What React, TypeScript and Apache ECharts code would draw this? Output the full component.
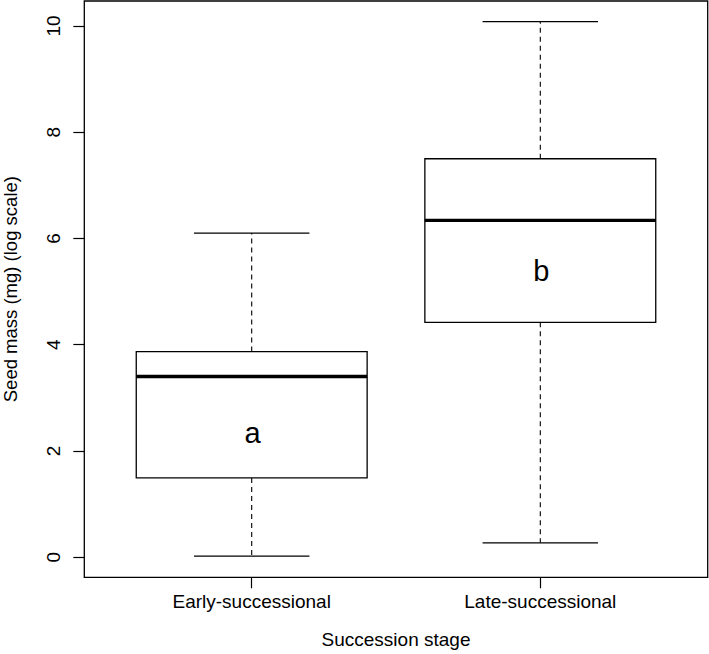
import React, { useEffect, useRef } from "react";
import * as echarts from "echarts";

const categories = ["Early-successional", "Late-successional"];
const whiskerLow = [0.02, 0.27];
const quartile1 = [1.49, 4.42];
const medians = [3.4, 6.34];
const quartile3 = [3.87, 7.5];
const whiskerHigh = [6.1, 10.08];
const groupLetters = ["a", "b"];
const letterY = [2.33, 5.38];
const yTicks = [0, 2, 4, 6, 8, 10];
const xTicks = [1, 2];

const FONT = "'Liberation Sans', Arial, Helvetica, sans-serif";

export default function App() {
  const ref = useRef<HTMLDivElement>(null);
  useEffect(() => {
    if (!ref.current) return;
    const chart = echarts.init(ref.current, null, { renderer: "svg" });
    const data = categories.map((_, i) => [
      i + 1,
      whiskerLow[i],
      quartile1[i],
      medians[i],
      quartile3[i],
      whiskerHigh[i],
      letterY[i],
    ]);
    const renderItem = (params: any, api: any) => {
      const x = api.value(0);
      const idx = params.dataIndex;
      const cx = api.coord([x, 0])[0];
      const yLow = api.coord([x, api.value(1)])[1];
      const yQ1 = api.coord([x, api.value(2)])[1];
      const yMed = api.coord([x, api.value(3)])[1];
      const yQ3 = api.coord([x, api.value(4)])[1];
      const yHigh = api.coord([x, api.value(5)])[1];
      const yLetter = api.coord([x, api.value(6)])[1];
      const halfBox = api.size([0.8, 0])[0] / 2;
      const halfCap = api.size([0.4, 0])[0] / 2;
      const dash = { stroke: "#000", lineWidth: 1.1, lineDash: [5, 4] };
      const solid = { stroke: "#000", lineWidth: 1.3 };
      return {
        type: "group",
        children: [
          { type: "line", shape: { x1: cx, y1: yQ1, x2: cx, y2: yLow }, style: dash },
          { type: "line", shape: { x1: cx, y1: yQ3, x2: cx, y2: yHigh }, style: dash },
          { type: "line", shape: { x1: cx - halfCap, y1: yLow, x2: cx + halfCap, y2: yLow }, style: solid },
          { type: "line", shape: { x1: cx - halfCap, y1: yHigh, x2: cx + halfCap, y2: yHigh }, style: solid },
          {
            type: "rect",
            shape: { x: cx - halfBox, y: yQ3, width: 2 * halfBox, height: yQ1 - yQ3 },
            style: { fill: "#fff", stroke: "#000", lineWidth: 1.3 },
          },
          {
            type: "line",
            shape: { x1: cx - halfBox, y1: yMed, x2: cx + halfBox, y2: yMed },
            style: { stroke: "#000", lineWidth: 3.4 },
          },
          {
            type: "text",
            style: {
              text: groupLetters[idx],
              x: cx + 1,
              y: yLetter,
              align: "center",
              verticalAlign: "middle",
              fontSize: 29,
              fontFamily: FONT,
              fill: "#000",
            },
          },
        ],
      };
    };
    chart.setOption({
      animation: false,
      backgroundColor: "#fff",
      grid: {
        left: 84.3,
        right: 1.3,
        top: 1,
        bottom: 76.7,
        show: true,
        borderColor: "#000",
        borderWidth: 1.3,
        backgroundColor: "transparent",
        containLabel: false,
        outerBoundsMode: "none",
      },
      xAxis: {
        type: "value",
        min: 0.42,
        max: 2.58,
        name: "Succession stage",
        nameLocation: "middle",
        nameGap: 53,
        nameTextStyle: { fontSize: 19, fontFamily: FONT, color: "#000" },
        axisLine: { show: false, onZero: false },
        splitLine: { show: false },
        axisTick: {
          show: true,
          length: 11,
          customValues: xTicks,
          lineStyle: { color: "#000", width: 1.2 },
        },
        axisLabel: {
          customValues: xTicks,
          margin: 15,
          fontSize: 19,
          fontFamily: FONT,
          color: "#000",
          formatter: (v: number) => categories[Math.round(v) - 1] ?? "",
        },
      },
      yAxis: {
        type: "value",
        min: -0.38,
        max: 10.47,
        name: "Seed mass (mg) (log scale)",
        nameLocation: "middle",
        nameGap: 64,
        nameTextStyle: { fontSize: 18.5, fontFamily: FONT, color: "#000" },
        axisLine: { show: false, onZero: false },
        splitLine: { show: false },
        axisTick: {
          show: true,
          length: 11,
          customValues: yTicks,
          lineStyle: { color: "#000", width: 1.2 },
        },
        axisLabel: {
          customValues: yTicks,
          rotate: 90,
          margin: 21,
          fontSize: 19,
          fontFamily: FONT,
          color: "#000",
        },
      },
      series: [
        {
          type: "custom",
          renderItem,
          data,
          encode: { x: 0, y: [1, 2, 3, 4, 5] },
        },
      ],
    });
    return () => chart.dispose();
  }, []);
  return (
    <div
      ref={ref}
      style={{ position: "fixed", left: 0, top: 0, width: 709, height: 654 }}
    />
  );
}
